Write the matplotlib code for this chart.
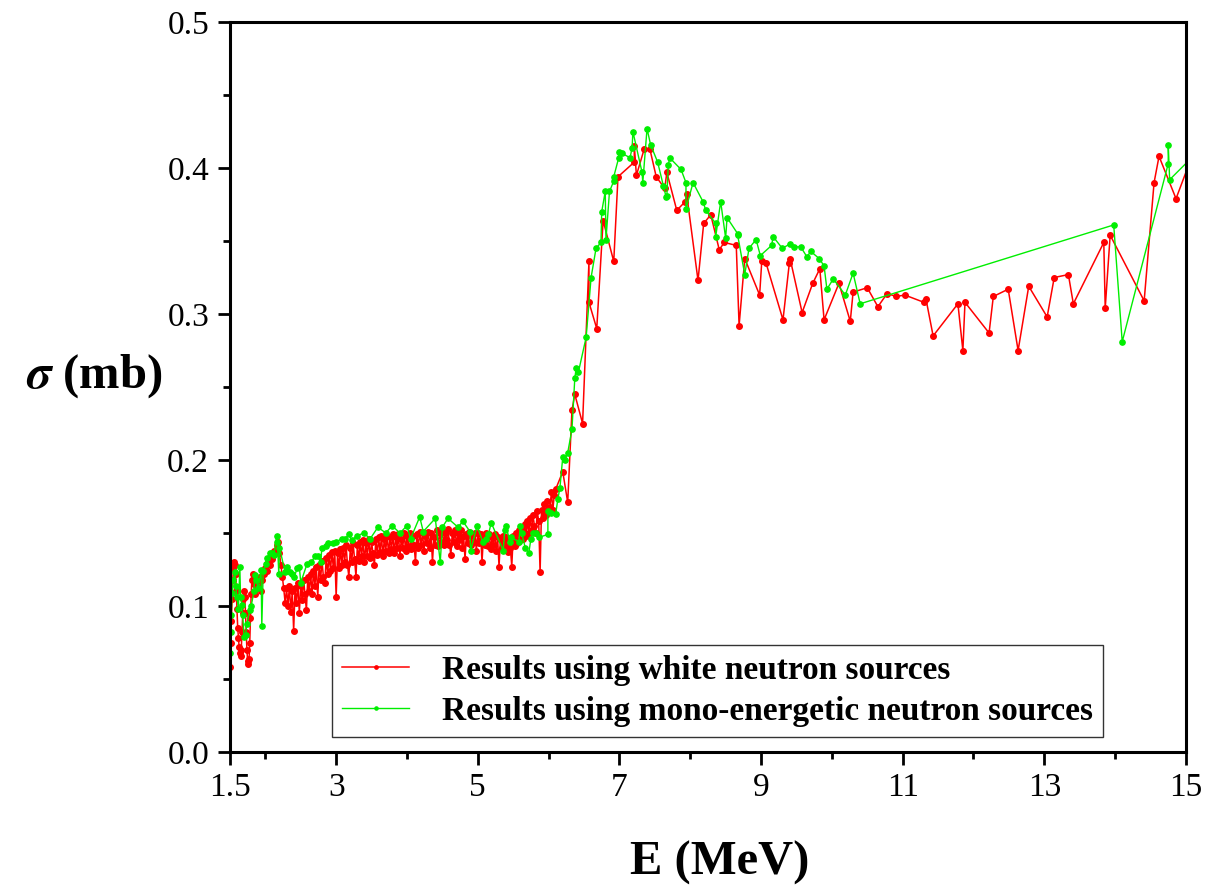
import matplotlib
matplotlib.use("Agg")
import matplotlib.pyplot as plt
from matplotlib.ticker import MultipleLocator, FixedLocator, FormatStrFormatter

# white neutron source results (E in MeV, sigma in mb)
# low-energy resonance part
E_white_a = [1.50, 1.51, 1.52, 1.53, 1.54, 1.55, 1.56, 1.57, 1.58, 1.59, 1.60, 1.61, 1.62, 1.63,
             1.64, 1.65, 1.66, 1.67, 1.68, 1.69, 1.70, 1.71, 1.72, 1.73, 1.74, 1.75, 1.76, 1.77,
             1.78, 1.79, 1.80, 1.81, 1.82, 1.84, 1.86, 1.88, 1.90, 1.92, 1.94, 1.96, 1.98, 2.00,
             2.02, 2.04, 2.06, 2.08, 2.10, 2.12, 2.14, 2.16, 2.18, 2.20]
sigma_white_a = [0.058, 0.075, 0.090, 0.105, 0.118, 0.126, 0.130, 0.128, 0.122, 0.110, 0.098,
                 0.085, 0.078, 0.072, 0.068, 0.066, 0.070, 0.082, 0.095, 0.105, 0.110, 0.106,
                 0.095, 0.082, 0.070, 0.062, 0.060, 0.064, 0.075, 0.092, 0.108, 0.118, 0.122,
                 0.115, 0.108, 0.118, 0.112, 0.120, 0.110, 0.118, 0.122, 0.126, 0.124, 0.130,
                 0.128, 0.134, 0.132, 0.138, 0.136, 0.142, 0.144, 0.136]
# dense plateau 2.2 - 6.1 MeV
E_white_b = [2.22, 2.24, 2.26, 2.28, 2.30, 2.32, 2.34, 2.36, 2.38, 2.40, 2.42, 2.44, 2.46, 2.48,
             2.50, 2.52, 2.54, 2.56, 2.58, 2.60, 2.62, 2.64, 2.66, 2.68, 2.70, 2.72, 2.74, 2.76,
             2.78, 2.80, 2.82, 2.84, 2.86, 2.88, 2.90, 2.92, 2.94, 2.96, 2.98, 3.00, 3.02, 3.04,
             3.06, 3.08, 3.10, 3.12, 3.14, 3.16, 3.18, 3.20, 3.22, 3.24, 3.26, 3.28, 3.30, 3.32,
             3.34, 3.36, 3.38, 3.40, 3.42, 3.44, 3.46, 3.48, 3.50, 3.52, 3.54, 3.56, 3.58, 3.60,
             3.62, 3.64, 3.66, 3.68, 3.70, 3.72, 3.74, 3.76, 3.78, 3.80, 3.82, 3.84, 3.86, 3.88,
             3.90, 3.92, 3.94, 3.96, 3.98, 4.00, 4.02, 4.04, 4.06, 4.08, 4.10, 4.12, 4.14, 4.16,
             4.18, 4.20, 4.22, 4.24, 4.26, 4.28, 4.30, 4.32, 4.34, 4.36, 4.38, 4.40, 4.42, 4.44,
             4.46, 4.48, 4.50, 4.52, 4.54, 4.56, 4.58, 4.60, 4.62, 4.64, 4.66, 4.68, 4.70, 4.72,
             4.74, 4.76, 4.78, 4.80, 4.82, 4.84, 4.86, 4.88, 4.90, 4.92, 4.94, 4.96, 4.98, 5.00,
             5.02, 5.04, 5.06, 5.08, 5.10, 5.12, 5.14, 5.16, 5.18, 5.20, 5.22, 5.24, 5.26, 5.28,
             5.30, 5.32, 5.34, 5.36, 5.38, 5.40, 5.42, 5.44, 5.46, 5.48, 5.50, 5.52, 5.54, 5.56,
             5.58, 5.60, 5.62, 5.64, 5.66, 5.68, 5.70, 5.72, 5.74, 5.76, 5.78, 5.80, 5.82, 5.84,
             5.86, 5.88, 5.90, 5.92, 5.94, 5.96, 5.98, 6.00, 6.02, 6.04, 6.06, 6.08, 6.10]
sigma_white_b = [0.128, 0.120, 0.112, 0.102, 0.112, 0.100, 0.114, 0.096, 0.110, 0.083, 0.112,
                 0.102, 0.116, 0.095, 0.114, 0.104, 0.118, 0.108, 0.097, 0.120, 0.110, 0.122,
                 0.108, 0.124, 0.114, 0.127, 0.106, 0.128, 0.118, 0.131, 0.120, 0.116, 0.133,
                 0.122, 0.135, 0.124, 0.137, 0.126, 0.138, 0.106, 0.136, 0.126, 0.139, 0.128,
                 0.140, 0.130, 0.142, 0.128, 0.120, 0.140, 0.130, 0.143, 0.132, 0.120, 0.142,
                 0.131, 0.144, 0.134, 0.145, 0.130, 0.143, 0.134, 0.146, 0.133, 0.144, 0.136,
                 0.128, 0.146, 0.135, 0.147, 0.137, 0.148, 0.134, 0.146, 0.138, 0.148, 0.136,
                 0.147, 0.139, 0.149, 0.136, 0.147, 0.140, 0.149, 0.134, 0.146, 0.140, 0.150,
                 0.138, 0.148, 0.141, 0.150, 0.139, 0.148, 0.142, 0.130, 0.149, 0.140, 0.151,
                 0.142, 0.150, 0.138, 0.148, 0.143, 0.151, 0.140, 0.150, 0.130, 0.147, 0.142,
                 0.152, 0.141, 0.150, 0.144, 0.152, 0.142, 0.150, 0.145, 0.153, 0.142, 0.135,
                 0.150, 0.144, 0.152, 0.141, 0.150, 0.145, 0.152, 0.140, 0.148, 0.132, 0.149,
                 0.143, 0.151, 0.142, 0.149, 0.144, 0.150, 0.138, 0.150, 0.143, 0.149, 0.130,
                 0.148, 0.142, 0.150, 0.141, 0.149, 0.139, 0.147, 0.142, 0.149, 0.138, 0.147,
                 0.127, 0.146, 0.140, 0.148, 0.141, 0.147, 0.137, 0.146, 0.140, 0.127, 0.148,
                 0.141, 0.150, 0.143, 0.152, 0.145, 0.154, 0.146, 0.156, 0.148, 0.158, 0.150,
                 0.160, 0.152, 0.162, 0.155, 0.150, 0.165, 0.158, 0.123, 0.166, 0.160, 0.170,
                 0.162, 0.172, 0.165, 0.168, 0.178, 0.166, 0.176, 0.180]
# rise, peak and high-energy part
E_white_c = [6.20, 6.27, 6.33, 6.37, 6.48, 6.57, 6.57, 6.68, 6.77, 6.92, 6.98, 7.21, 7.21, 7.24,
             7.35, 7.43, 7.52, 7.64, 7.67, 7.81, 7.93, 7.95, 8.11, 8.19, 8.29, 8.41, 8.48, 8.65,
             8.69, 8.77, 8.98, 9.01, 9.07, 9.31, 9.40, 9.41, 9.58, 9.73, 9.83, 9.89, 10.10, 10.26,
             10.30, 10.50, 10.65, 10.78, 10.91, 11.03, 11.30, 11.33, 11.43, 11.78, 11.85, 11.88,
             12.22, 12.28, 12.49, 12.63, 12.78, 13.04, 13.14, 13.34, 13.41, 13.84, 13.86, 13.93,
             14.41, 14.55, 14.62, 14.86, 15.10]
sigma_white_c = [0.192, 0.171, 0.234, 0.245, 0.225, 0.336, 0.308, 0.290, 0.364, 0.336, 0.394,
                 0.404, 0.415, 0.395, 0.413, 0.413, 0.394, 0.386, 0.397, 0.371, 0.377, 0.382,
                 0.323, 0.362, 0.368, 0.344, 0.349, 0.347, 0.292, 0.338, 0.313, 0.336, 0.335,
                 0.296, 0.335, 0.338, 0.301, 0.321, 0.331, 0.296, 0.321, 0.295, 0.315, 0.318,
                 0.305, 0.314, 0.312, 0.313, 0.308, 0.310, 0.285, 0.307, 0.275, 0.308, 0.287,
                 0.312, 0.317, 0.275, 0.319, 0.298, 0.325, 0.327, 0.307, 0.349, 0.304, 0.354,
                 0.309, 0.390, 0.408, 0.379, 0.410]

# mono-energetic neutron source results
E_mono = [1.50, 1.51, 1.52, 1.53, 1.55, 1.57, 1.58, 1.60, 1.62, 1.64, 1.65, 1.67, 1.68, 1.70,
          1.72, 1.74, 1.78, 1.80, 1.84, 1.85, 1.87, 1.90, 1.94, 1.95, 1.97, 2.01, 2.03, 2.06,
          2.10, 2.12, 2.16, 2.17, 2.19, 2.20, 2.28, 2.30, 2.35, 2.38, 2.41, 2.45, 2.48, 2.50,
          2.59, 2.65, 2.70, 2.75, 2.78, 2.80, 2.85, 2.88, 2.95, 3.00, 3.08, 3.12, 3.18, 3.22,
          3.29, 3.39, 3.48, 3.59, 3.70, 3.79, 3.90, 4.00, 4.05, 4.18, 4.23, 4.40, 4.47, 4.50,
          4.58, 4.72, 4.79, 4.89, 4.90, 4.99, 5.07, 5.11, 5.15, 5.19, 5.36, 5.38, 5.40, 5.45,
          5.47, 5.58, 5.60, 5.62, 5.67, 5.72, 5.75, 5.78, 5.82, 5.86, 5.99, 5.99, 6.04, 6.10,
          6.13, 6.16, 6.20, 6.23, 6.27, 6.33, 6.37, 6.39, 6.42, 6.53, 6.60, 6.67, 6.74, 6.75,
          6.80, 6.81, 6.86, 6.92, 6.92, 6.99, 6.99, 7.04, 7.15, 7.18, 7.19, 7.32, 7.33, 7.39,
          7.44, 7.54, 7.62, 7.66, 7.67, 7.69, 7.71, 7.87, 7.94, 7.94, 8.04, 8.18, 8.22, 8.36,
          8.36, 8.43, 8.50, 8.52, 8.67, 8.67, 8.77, 8.83, 8.93, 8.99, 9.15, 9.17, 9.30, 9.41,
          9.46, 9.56, 9.65, 9.70, 9.82, 9.89, 9.93, 10.02, 10.19, 10.30, 10.40, 13.98, 14.10,
          14.75, 14.75, 14.77, 15.10]
sigma_mono = [0.068, 0.082, 0.094, 0.109, 0.118, 0.123, 0.114, 0.106, 0.098, 0.127, 0.106, 0.101,
              0.094, 0.079, 0.080, 0.088, 0.097, 0.100, 0.110, 0.121, 0.118, 0.112, 0.125, 0.086,
              0.124, 0.129, 0.133, 0.136, 0.136, 0.135, 0.148, 0.144, 0.122, 0.140, 0.123, 0.127,
              0.123, 0.122, 0.120, 0.126, 0.127, 0.116, 0.129, 0.130, 0.134, 0.134, 0.130, 0.140,
              0.141, 0.143, 0.143, 0.144, 0.146, 0.146, 0.149, 0.145, 0.148, 0.150, 0.146, 0.154,
              0.150, 0.155, 0.150, 0.155, 0.146, 0.161, 0.151, 0.160, 0.130, 0.154, 0.160, 0.154,
              0.158, 0.151, 0.138, 0.155, 0.144, 0.146, 0.149, 0.157, 0.138, 0.152, 0.155, 0.144,
              0.147, 0.144, 0.155, 0.150, 0.140, 0.136, 0.146, 0.150, 0.150, 0.147, 0.149, 0.165,
              0.164, 0.163, 0.173, 0.181, 0.202, 0.200, 0.205, 0.221, 0.256, 0.263, 0.260, 0.284,
              0.325, 0.345, 0.349, 0.370, 0.384, 0.351, 0.384, 0.391, 0.394, 0.407, 0.411, 0.410,
              0.407, 0.414, 0.425, 0.397, 0.390, 0.427, 0.416, 0.404, 0.388, 0.380, 0.381, 0.402,
              0.407, 0.399, 0.390, 0.372, 0.390, 0.377, 0.371, 0.362, 0.353, 0.377, 0.352, 0.366,
              0.355, 0.354, 0.327, 0.345, 0.351, 0.340, 0.347, 0.353, 0.345, 0.348, 0.346, 0.346,
              0.339, 0.343, 0.338, 0.333, 0.317, 0.324, 0.313, 0.328, 0.307, 0.361, 0.281, 0.403,
              0.416, 0.392, 0.408]

x_ticks = [1.5, 3, 5, 7, 9, 11, 13, 15]
x_ticklabels = ["1.5", "3", "5", "7", "9", "11", "13", "15"]
x_minor = [2, 4, 6, 8, 10, 12, 14]

E_white = E_white_a + E_white_b + E_white_c
sigma_white = sigma_white_a + sigma_white_b + sigma_white_c

plt.rcParams['font.family'] = ['Liberation Serif', 'DejaVu Serif']
plt.rcParams['mathtext.fontset'] = 'stix'

fig = plt.figure(figsize=(12.23, 8.91), dpi=100)
ax = fig.add_axes([0.188, 0.156, 0.7817, 0.8193])

ax.plot(E_white, sigma_white, color='#ff0000', lw=1.1, marker='o', ms=4.0,
        label='Results using white neutron sources')
ax.plot(E_mono, sigma_mono, color='#00ee00', lw=1.0, marker='o', ms=3.8,
        label='Results using mono-energetic neutron sources')

ax.set_xlim(1.5, 15)
ax.set_ylim(0, 0.5)
ax.xaxis.set_major_locator(FixedLocator(x_ticks))
ax.set_xticklabels(x_ticklabels)
ax.xaxis.set_minor_locator(FixedLocator(x_minor))
ax.yaxis.set_major_locator(MultipleLocator(0.1))
ax.yaxis.set_minor_locator(MultipleLocator(0.05))
ax.yaxis.set_major_formatter(FormatStrFormatter('%.1f'))

ax.tick_params(which='major', direction='out', length=9, width=2, labelsize=24, pad=6)
ax.tick_params(which='minor', direction='out', length=5, width=2)
for s in ax.spines.values():
    s.set_linewidth(2.2)

ax.set_xlabel('E (MeV)', fontsize=35, fontweight='bold')
ax.xaxis.set_label_coords(0.5126, -0.122)
fig.text(0.077, 0.578, r'$\boldsymbol{\sigma}$ (mb)', fontsize=35, fontweight='bold',
         ha='center', va='center')

leg = ax.legend(loc='lower left', bbox_to_anchor=(0.107, 0.0205), borderaxespad=0,
                prop={'weight': 'bold', 'size': 24}, frameon=True, fancybox=False,
                edgecolor='black', handlelength=2.0, markerscale=0.6,
                borderpad=0.3, labelspacing=0.3, handletextpad=1.0)
leg.get_frame().set_linewidth(1.0)

fig.savefig('out.png', dpi=100)
